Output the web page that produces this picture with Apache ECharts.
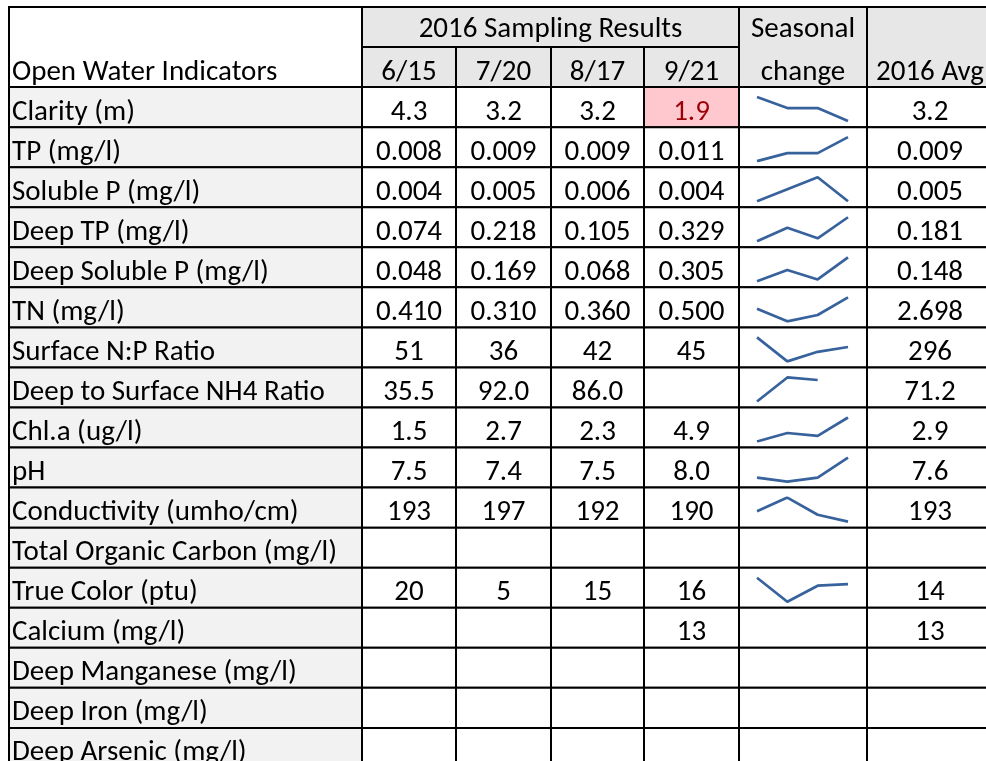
<!DOCTYPE html>
<html>
<head>
<meta charset="utf-8">
<script src="https://cdn.jsdelivr.net/npm/echarts@6/dist/echarts.min.js"></script>
<style>
html, body { margin: 0; padding: 0; background: #fff; }
#main { width: 986px; height: 761px; }
</style>
</head>
<body>
<div id="main"></div>
<script>
// table data
var indicators = ['Clarity (m)', 'TP (mg/l)', 'Soluble P (mg/l)', 'Deep TP (mg/l)', 'Deep Soluble P (mg/l)',
    'TN (mg/l)', 'Surface N:P Ratio', 'Deep to Surface NH4 Ratio', 'Chl.a (ug/l)', 'pH',
    'Conductivity (umho/cm)', 'Total Organic Carbon (mg/l)', 'True Color (ptu)', 'Calcium (mg/l)',
    'Deep Manganese (mg/l)', 'Deep Iron (mg/l)', 'Deep Arsenic (mg/l)'];
var dates = ['6/15', '7/20', '8/17', '9/21'];
var jun15 = [4.3, 0.008, 0.004, 0.074, 0.048, 0.410, 51, 35.5, 1.5, 7.5, 193, null, 20, null, null, null, null];
var jul20 = [3.2, 0.009, 0.005, 0.218, 0.169, 0.310, 36, 92.0, 2.7, 7.4, 197, null, 5, null, null, null, null];
var aug17 = [3.2, 0.009, 0.006, 0.105, 0.068, 0.360, 42, 86.0, 2.3, 7.5, 192, null, 15, null, null, null, null];
var sep21 = [1.9, 0.011, 0.004, 0.329, 0.305, 0.500, 45, null, 4.9, 8.0, 190, null, 16, 13, null, null, null];
var avg2016 = [3.2, 0.009, 0.005, 0.181, 0.148, 2.698, 296, 71.2, 2.9, 7.6, 193, null, 14, 13, null, null, null];
var decimals = [1, 3, 3, 3, 3, 3, 0, 1, 1, 1, 0, 0, 0, 0, 0, 0, 0];
var highlighted = [[0, 3]]; // [row, date index]

var headerTitle = 'Open Water Indicators';
var groupTitle = '2016 Sampling Results';
var trendTitle = ['Seasonal', 'change'];
var avgTitle = '2016 Avg';

// layout (the table runs past the right and bottom edge of the picture)
var colWidths = [353, 94, 95, 93, 95, 128, 126];
var tableLeft = 9, tableTop = 7, rowH = 40.05;
var viewW = 986, viewH = 761;
var font = 'Carlito, Lato, sans-serif';
var fontSize = 29;
var labelFill = '#f2f2f2', headFill = '#e7e7e7';
var sparkColor = '#37629c';

var colEdges = [0];
colWidths.forEach(function (w) { colEdges.push(colEdges[colEdges.length - 1] + w); });
var gridW = viewW - tableLeft;
var gridH = viewH - tableTop;

function fmt(v, d) {
    return v == null ? '' : v.toFixed(d);
}

var cells = [];
function addCell(c0, c1, r0, r1, fill, texts) {
    cells.push({x0: colEdges[c0], x1: colEdges[c1], y0: r0, y1: r1, fill: fill, texts: texts || []});
}

// header
addCell(0, 1, 0, 2, '#ffffff', [{text: headerTitle, row: 1, align: 'left'}]);
addCell(1, 5, 0, 1, headFill, [{text: groupTitle, row: 0}]);
dates.forEach(function (d, i) {
    addCell(1 + i, 2 + i, 1, 2, headFill, [{text: d, row: 1}]);
});
addCell(5, 6, 0, 2, headFill, [{text: trendTitle[0], row: 0}, {text: trendTitle[1], row: 1}]);
addCell(6, 7, 0, 2, headFill, [{text: avgTitle, row: 1}]);

// body
var cols = [jun15, jul20, aug17, sep21];
indicators.forEach(function (name, r) {
    var row = r + 2;
    addCell(0, 1, row, row + 1, labelFill, [{text: name, row: row, align: 'left'}]);
    cols.forEach(function (arr, i) {
        var hi = highlighted.some(function (h) { return h[0] === r && h[1] === i; });
        addCell(1 + i, 2 + i, row, row + 1, hi ? '#ffc7ce' : '#ffffff',
            [{text: fmt(arr[r], decimals[r]), row: row, color: hi ? '#9c0006' : '#000'}]);
    });
    addCell(5, 6, row, row + 1, '#ffffff', []);
    addCell(6, 7, row, row + 1, '#ffffff', [{text: fmt(avg2016[r], decimals[r]), row: row}]);
});

function renderCell(params, api) {
    var c = cells[params.dataIndex];
    var p0 = api.coord([c.x0, c.y0]);
    var p1 = api.coord([c.x1, c.y1]);
    var h = api.size([0, 1])[1];
    var children = [{
        type: 'rect',
        shape: {x: p0[0], y: p0[1], width: p1[0] - p0[0], height: p1[1] - p0[1]},
        style: {fill: c.fill, stroke: '#000', lineWidth: 2}
    }];
    c.texts.forEach(function (t) {
        // first header line sits a little higher in its cell
        var ty = api.coord([0, t.row])[1] + h * (t.row === 0 ? 0.58 : 0.63);
        var left = t.align === 'left';
        children.push({
            type: 'text',
            style: {
                x: left ? p0[0] + 3 : (p0[0] + p1[0]) / 2,
                y: ty,
                text: t.text,
                fill: t.color || '#000',
                font: fontSize + 'px ' + font,
                align: left ? 'left' : 'center',
                verticalAlign: 'middle'
            }
        });
    });
    return {type: 'group', children: children};
}

var grids = [{left: tableLeft, top: tableTop, width: gridW, height: gridH}];
var xAxes = [{type: 'value', min: 0, max: gridW, show: false, gridIndex: 0}];
var yAxes = [{type: 'value', min: 0, max: gridH / rowH, inverse: true, show: false, gridIndex: 0}];
var series = [{
    type: 'custom',
    xAxisIndex: 0,
    yAxisIndex: 0,
    renderItem: renderCell,
    data: cells.map(function (c) { return [c.x0, c.y0, c.x1, c.y1]; }),
    clip: false,
    silent: true,
    z: 1
}];

// sparklines
indicators.forEach(function (name, r) {
    var vals = cols.map(function (arr) { return arr[r]; });
    var n = vals.filter(function (v) { return v != null; }).length;
    if (n < 2) return;
    var g = grids.length;
    grids.push({
        left: tableLeft + colEdges[5] + 18,
        width: colWidths[5] - 37,
        top: tableTop + (r + 2) * rowH + 10,
        height: 24
    });
    xAxes.push({type: 'category', data: dates, boundaryGap: false, show: false, gridIndex: g});
    yAxes.push({
        type: 'value', show: false, gridIndex: g, scale: true,
        min: function (v) { return v.min; },
        max: function (v) { return v.max; }
    });
    series.push({
        type: 'line',
        xAxisIndex: g,
        yAxisIndex: g,
        data: vals,
        symbol: 'none',
        silent: true,
        lineStyle: {color: sparkColor, width: 2.7},
        z: 5
    });
});

var myChart = echarts.init(document.getElementById('main'));
var option = {
    backgroundColor: '#ffffff',
    animation: false,
    grid: grids,
    xAxis: xAxes,
    yAxis: yAxes,
    series: series
};
myChart.setOption(option);
</script>
</body>
</html>
